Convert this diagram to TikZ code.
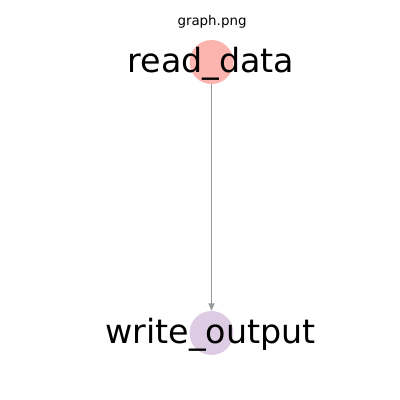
\documentclass[tikz,border=0pt]{standalone}
\usepackage{fontspec}
\setmainfont{DejaVu Sans}
\usetikzlibrary{arrows.meta}
\definecolor{readpink}{HTML}{FBB4AE}
\definecolor{writelilac}{HTML}{DECBE4}
\definecolor{edgegray}{HTML}{999999}
\tikzset{
  taskdot/.style={circle, inner sep=0pt, minimum size=44pt},
  tasklabel/.style={anchor=base, inner sep=0pt, font=\fontsize{33.3}{36}\selectfont},
}
\begin{document}
\begin{tikzpicture}[x=1pt, y=-1pt]
    \useasboundingbox (0,0) rectangle (400,400);
    \node[anchor=base, inner sep=0pt, font=\fontsize{13.4}{15}\selectfont] (title) at (212,25) {graph.png};
    \node[taskdot, fill=readpink] (readdata) at (211.5,62) {};
    \node[taskdot, fill=writelilac] (writeoutput) at (211.5,333) {};
    \draw[edgegray, line width=1.3pt, -{Triangle[length=7.5pt, width=6pt]}] (readdata) -- (writeoutput);
    \node[tasklabel] (readlabel) at (211,72) {read\_data};
    \node[tasklabel] (writelabel) at (210.5,343) {write\_output};
\end{tikzpicture}
\end{document}
